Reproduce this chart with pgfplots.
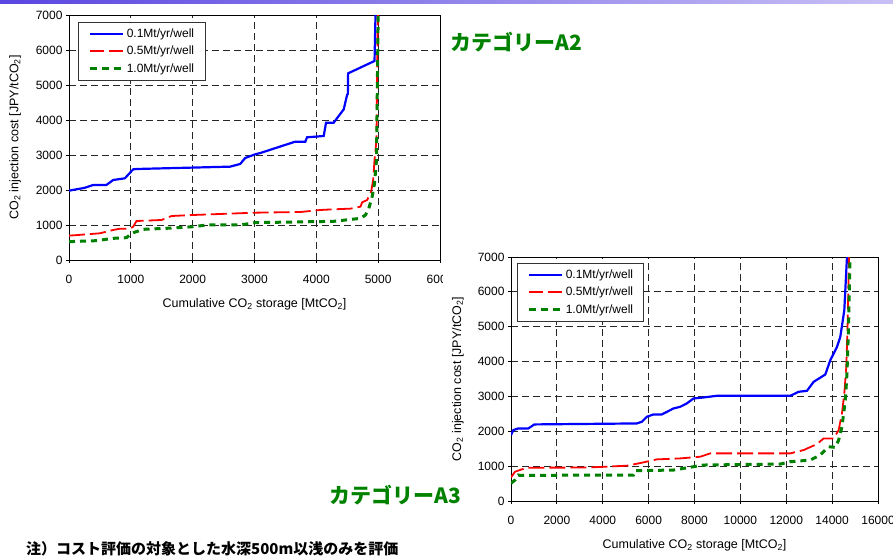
\documentclass[border=0pt]{standalone}
\usepackage{fontspec}
\setmainfont{Liberation Sans}
\newfontfamily\jp{Noto Sans CJK JP}
\usepackage{pgfplots}
\pgfplotsset{compat=1.18}
\definecolor{cgreen}{RGB}{0,128,0}
\definecolor{tgreen}{RGB}{0,130,0}
\tikzset{
  lb/.style={blue, line width=2.2pt},
  lr/.style={red, line width=1.8pt, dash pattern=on 16pt off 5pt},
  lg/.style={cgreen, line width=3pt, dash pattern=on 6pt off 5pt},
}
\pgfplotsset{
  mystyle/.style={
    scale only axis,
    /pgf/number format/assume math mode=true,
    /pgf/number format/1000 sep={},
    scaled x ticks=false, scaled y ticks=false,
    ymin=0, ymax=7000, ytick distance=1000,
    grid=major,
    major grid style={black!85, line width=0.8pt, dash pattern=on 7pt off 4pt},
    axis line style={black, line width=0.9pt},
    tick align=outside, major tick length=3pt,
    tick style={black, line width=0.8pt},
    xtick pos=bottom, ytick pos=left,
    ticklabel style={font=\fontsize{12}{14}\selectfont},
    xticklabel style={yshift=-9pt},
    label style={font=\fontsize{12.5}{14}\selectfont},
    xlabel={Cumulative CO\textsubscript{2} storage [MtCO\textsubscript{2}]},
    ylabel={CO\textsubscript{2} injection cost [JPY/tCO\textsubscript{2}]},
    xlabel style={at={(axis description cs:0.5,-0.182)}, anchor=center},
    ylabel style={at={(axis description cs:-0.145,0.5)}, anchor=center},
    legend cell align=left,
    legend style={draw=black!80, line width=0.8pt, font=\fontsize{12}{14}\selectfont,
      inner sep=4pt, row sep=3.5pt, nodes={inner sep=2pt}},
  },
  legb/.style={legend image code/.code={\path[draw=none,fill=none] (0pt,-3pt) rectangle (41pt,3pt); \draw[blue, line width=2.2pt, solid] (8pt,0pt) -- (41pt,0pt);}},
  legr/.style={legend image code/.code={\path[draw=none,fill=none] (0pt,-3pt) rectangle (41pt,3pt); \draw[red, line width=1.8pt, dash pattern=on 14pt off 5pt] (8pt,0pt) -- (41pt,0pt);}},
  legg/.style={legend image code/.code={\path[draw=none,fill=none] (0pt,-3pt) rectangle (41pt,3pt); \draw[cgreen, line width=3pt, dash pattern=on 7pt off 5pt] (8pt,0pt) -- (41pt,0pt);}},
}
\begin{document}
\begin{tikzpicture}[x=1pt,y=1pt]
\useasboundingbox (0,0) rectangle (893,556);
\shade[left color={rgb,255:red,90;green,70;blue,225}, right color={rgb,255:red,200;green,192;blue,245}] (0,552) rectangle (893,556);

\begin{axis}[mystyle, at={(69pt,296pt)}, anchor=south west, width=371pt, height=245pt,
  xmin=0, xmax=6000, xtick distance=1000,
  legend style={at={(rel axis cs:0.024,0.971)}, anchor=north west}]
\addplot[lb, legb] coordinates {(0,1981) (250,2060) (389,2143) (605,2143) (714,2286) (903,2333) (1038,2590) (1092,2600) (2000,2640) (2605,2667) (2768,2743) (2849,2914) (3011,3019) (3100,3060) (3659,3381) (3822,3381) (3849,3505) (4119,3543) (4157,3924) (4281,3924) (4443,4305) (4497,4714) (4510,4750) (4514,5333) (4941,5686) (4957,7000)};
\addlegendentry{0.1Mt/yr/well\hspace*{5pt}}
\addplot[lr, legr] coordinates {(0,695) (497,762) (714,857) (822,895) (984,895) (1038,952) (1092,1114) (1497,1143) (1659,1257) (2011,1286) (3011,1352) (3741,1371) (4065,1429) (4281,1448) (4551,1467) (4714,1524) (4741,1648) (4822,1714) (4886,1952) (4919,2286) (4941,2857) (4973,3429) (4984,5524) (4995,7000)};
\addlegendentry{0.5Mt/yr/well\hspace*{5pt}}
\addplot[lg, legg] coordinates {(0,524) (443,552) (714,619) (930,638) (1011,762) (1200,876) (1686,914) (2011,952) (2227,1000) (2768,1000) (3011,1067) (4281,1105) (4714,1190) (4795,1286) (4849,1476) (4903,1810) (4941,2190) (4973,2857) (5000,7000)};
\addlegendentry{1.0Mt/yr/well\hspace*{5pt}}
\end{axis}
\fill[white] (443,250) rectangle (470,290);

\begin{axis}[mystyle, at={(511pt,55pt)}, anchor=south west, width=367pt, height=244pt,
  xmin=0, xmax=16000, xtick distance=2000,
  legend style={at={(rel axis cs:0.016,0.975)}, anchor=north west}]
\addplot[lb, legb] coordinates {(0,1891) (102,2034) (320,2082) (756,2082) (1018,2197) (5484,2225) (5702,2273) (5920,2416) (6211,2483) (6575,2483) (7084,2655) (7375,2703) (7665,2799) (7956,2942) (8393,2970) (8975,3018) (12175,3018) (12538,3133) (12902,3161) (13193,3419) (13702,3629) (13920,4040) (14211,4422) (14356,4709) (14531,5473) (14647,7000)};
\addlegendentry{0.1Mt/yr/well\hspace*{4pt}}
\addplot[lr, legr] coordinates {(0,678) (175,840) (684,955) (3302,960) (4000,980) (5047,1012) (5702,1098) (6356,1194) (7375,1222) (8247,1270) (8684,1366) (12175,1366) (12756,1461) (13338,1633) (13629,1795) (14065,1795) (14284,2034) (14429,2512) (14531,3085) (14618,3849) (14676,5091) (14720,6523) (14734,7000)};
\addlegendentry{0.5Mt/yr/well\hspace*{4pt}}
\addplot[lg, legg] coordinates {(0,506) (175,602) (320,745) (393,735) (5338,745) (5411,869) (7084,888) (7956,984) (8393,1032) (11738,1060) (12175,1127) (13047,1175) (13484,1318) (13847,1557) (14138,1538) (14284,1748) (14429,2130) (14575,2894) (14647,3658) (14720,5091) (14763,6523) (14778,7000)};
\addlegendentry{1.0Mt/yr/well\hspace*{4pt}}
\end{axis}

\node[anchor=center, text=tgreen, font={\jp\bfseries\fontsize{21}{24}\selectfont}, inner sep=0pt] at (516,514) {カテゴリーA2};
\node[anchor=center, text=tgreen, font={\jp\bfseries\fontsize{21}{24}\selectfont}, inner sep=0pt] at (395,61) {カテゴリーA3};
\node[anchor=west, font={\jp\bfseries\fontsize{15}{17}\selectfont}, inner sep=0pt] at (26,7) {注）コスト評価の対象とした水深500m以浅のみを評価};
\end{tikzpicture}
\end{document}
